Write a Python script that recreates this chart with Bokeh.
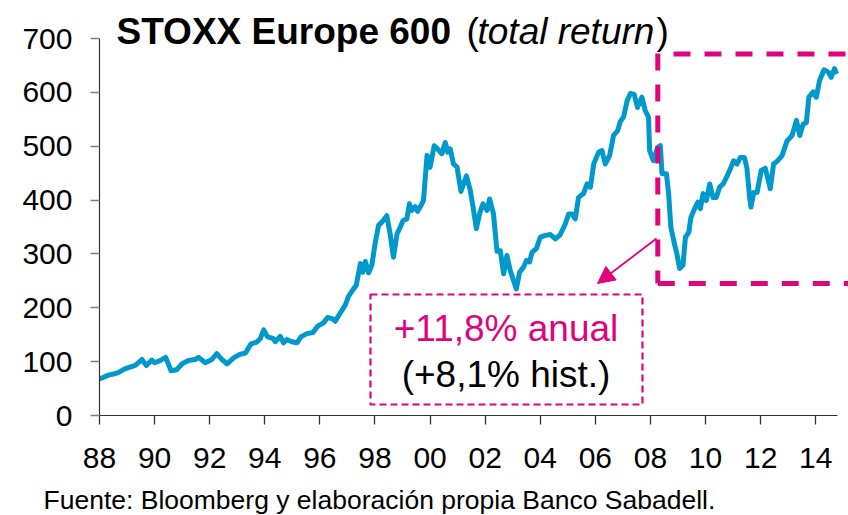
from bokeh.plotting import figure
from bokeh.models import (Range1d, FixedTicker, Label, Arrow, NormalHead, BoxAnnotation,
                          ColumnDataSource, Title)
from bokeh.embed import file_html
from bokeh.resources import INLINE

# ---- data ----
years = [
    1988.00, 1988.15, 1988.33, 1988.50, 1988.70, 1988.90, 1989.05, 1989.30, 1989.54, 1989.70,
    1989.90, 1990.00, 1990.20, 1990.40, 1990.60, 1990.80, 1991.00, 1991.23, 1991.47, 1991.60,
    1991.84, 1992.08, 1992.26, 1992.44, 1992.63, 1992.87, 1993.07, 1993.30, 1993.50, 1993.70,
    1993.84, 1993.96, 1994.10, 1994.30, 1994.38, 1994.56, 1994.68, 1994.80, 1994.98, 1995.17,
    1995.31, 1995.53, 1995.75, 1995.92, 1996.13, 1996.28, 1996.44, 1996.56, 1996.71, 1996.92,
    1997.04, 1997.22, 1997.32, 1997.40, 1997.47, 1997.56, 1997.65, 1997.77, 1997.89, 1998.00,
    1998.13, 1998.25, 1998.43, 1998.55, 1998.67, 1998.80, 1998.92, 1999.02, 1999.16, 1999.25,
    1999.34, 1999.46, 1999.55, 1999.65, 1999.76, 1999.89, 2000.00, 2000.15, 2000.27, 2000.43,
    2000.55, 2000.64, 2000.73, 2000.85, 2000.98, 2001.12, 2001.32, 2001.46, 2001.58, 2001.68,
    2001.80, 2001.92, 2002.07, 2002.16, 2002.30, 2002.43, 2002.55, 2002.67, 2002.79, 2002.91,
    2003.03, 2003.13, 2003.25, 2003.40, 2003.50, 2003.61, 2003.70, 2003.86, 2004.00, 2004.15,
    2004.37, 2004.55, 2004.73, 2004.91, 2005.03, 2005.15, 2005.27, 2005.39, 2005.57, 2005.70,
    2005.82, 2005.94, 2006.12, 2006.24, 2006.36, 2006.52, 2006.66, 2006.81, 2006.90, 2007.03,
    2007.15, 2007.27, 2007.41, 2007.53, 2007.69, 2007.81, 2007.93, 2007.97, 2008.11, 2008.26,
    2008.36, 2008.42, 2008.58, 2008.66, 2008.74, 2008.87, 2008.96, 2009.06, 2009.18, 2009.27,
    2009.39, 2009.47, 2009.63, 2009.72, 2009.81, 2009.91, 2010.03, 2010.15, 2010.27, 2010.39,
    2010.51, 2010.64, 2010.76, 2010.90, 2011.02, 2011.14, 2011.26, 2011.41, 2011.50, 2011.60,
    2011.65, 2011.75, 2011.87, 2012.02, 2012.17, 2012.35, 2012.47, 2012.62, 2012.78, 2012.96,
    2013.14, 2013.30, 2013.42, 2013.54, 2013.66, 2013.75, 2013.91, 2014.02, 2014.14, 2014.30,
    2014.45, 2014.56, 2014.68, 2014.76,
]
values = [
    68, 71, 75, 77, 80, 86, 89, 93, 104, 93,
    103, 98, 102, 108, 83, 85, 96, 102, 104, 108,
    98, 104, 115, 104, 96, 107, 113, 116, 133, 136,
    143, 159, 146, 143, 137, 147, 135, 141, 137, 135,
    146, 152, 154, 166, 172, 182, 180, 175, 188, 205,
    221, 235, 242, 263, 282, 266, 286, 265, 280, 318,
    353, 359, 371, 337, 294, 337, 350, 362, 365, 393,
    381, 388, 379, 388, 399, 483, 461, 501, 495, 486,
    507, 489, 495, 467, 461, 416, 445, 418, 381, 347,
    375, 393, 381, 402, 375, 305, 306, 263, 297, 269,
    251, 235, 266, 276, 288, 285, 303, 310, 331, 334,
    336, 328, 336, 356, 374, 374, 365, 405, 412, 430,
    424, 467, 489, 492, 467, 483, 520, 529, 545, 555,
    584, 598, 596, 572, 591, 566, 554, 492, 473, 498,
    501, 449, 449, 412, 350, 319, 300, 273, 279, 331,
    340, 368, 387, 396, 384, 412, 399, 430, 405, 405,
    424, 430, 442, 458, 473, 467, 479, 479, 460, 405,
    387, 414, 414, 455, 459, 421, 467, 473, 483, 510,
    520, 548, 520, 541, 544, 591, 601, 591, 622, 642,
    638, 628, 644, 634,
]
x_ticks = [1988, 1990, 1992, 1994, 1996, 1998, 2000, 2002, 2004, 2006, 2008, 2010, 2012, 2014]
x_tick_labels = ["88", "90", "92", "94", "96", "98", "00", "02", "04", "06", "08", "10", "12", "14"]
y_ticks = [0, 100, 200, 300, 400, 500, 600, 700]

title_bold = "STOXX Europe 600"
title_italic = "total return"
box_line1 = "+11,8% anual"
box_line2 = "(+8,1% hist.)"
source_text = "Fuente: Bloomberg y elaboración propia Banco Sabadell."

# ---- layout ----
W, H = 848, 515
ML, MR, MT, MB = 99, 0, 0, 100
FW, FH = W - ML - MR, H - MT - MB
# pixel extent of the drawn axes inside the frame
AX_L, AX_R, AX_T, AX_B = 99, 837, 38, 415
XA0, XA1 = 1988.0, 2014.79          # x-axis extent (data)
YA0, YA1 = 0, 700                   # y-axis extent (data)
X0 = XA0
X1 = XA0 + (XA1 - XA0) * FW / (AX_R - AX_L)
Y0 = YA0
Y1 = YA1 * FH / (AX_B - AX_T)

MAG = "#E0047C"
BLUE = "#0099CC"
FONT = "Liberation Sans"


def px_x(ix):
    # canvas pixel -> x data value
    return X0 + (ix - ML) / FW * (X1 - X0)


def px_y(iy):
    # canvas pixel -> y data value
    return Y0 + (MT + FH - iy) / FH * (Y1 - Y0)


p = figure(width=W, height=H, x_range=Range1d(X0, X1), y_range=Range1d(Y0, Y1),
           output_backend="svg", toolbar_location=None, title=None,
           min_border_left=ML, min_border_right=MR, min_border_top=MT, min_border_bottom=MB)
p.outline_line_color = None
p.xgrid.visible = False
p.ygrid.visible = False
p.background_fill_color = "white"
p.border_fill_color = "white"

for ax in (p.xaxis[0], p.yaxis[0]):
    ax.axis_line_color = "#333333"
    ax.axis_line_width = 1.2
    ax.major_tick_out = 9
    ax.major_tick_in = 0
    ax.minor_tick_line_color = None
    ax.major_label_text_font = FONT
    ax.major_label_text_font_size = "30px"
    ax.major_label_text_color = "black"

p.xaxis.bounds = (XA0, XA1)
p.yaxis.bounds = (YA0, YA1)
p.xaxis.ticker = FixedTicker(ticks=x_ticks)
p.xaxis.major_label_overrides = dict(zip(x_ticks, x_tick_labels))
p.xaxis.major_label_standoff = 23
p.xaxis.major_tick_line_color = "#333333"
p.xaxis.major_tick_line_width = 1.3
# blank axis label used only as a small spacer before the source note
p.xaxis.axis_label = " "
p.xaxis.axis_label_text_font_size = "5px"
p.xaxis.axis_label_standoff = 3
p.yaxis.ticker = FixedTicker(ticks=y_ticks)
p.yaxis.major_label_standoff = 18
p.yaxis.major_tick_line_color = "#808080"
p.yaxis.major_tick_line_width = 1.5

src = ColumnDataSource(dict(x=years, y=values))
p.line("x", "y", source=src, line_color=BLUE, line_width=5, line_join="round")

# annotation box
p.add_layout(BoxAnnotation(left=px_x(370), right=px_x(642), top=px_y(294), bottom=px_y(404),
                           fill_alpha=0, line_color=MAG, line_alpha=1, line_width=2.2,
                           line_dash="7 4"))
p.add_layout(Label(x=px_x(505.5), y=px_y(327.5), text=box_line1, text_align="center",
                   text_baseline="middle", text_font=FONT, text_font_size="37px",
                   text_color=MAG))
p.add_layout(Label(x=px_x(505.5), y=px_y(374), text=box_line2, text_align="center",
                   text_baseline="middle", text_font=FONT, text_font_size="37px",
                   text_color="black"))

# big dashed frame (post-2008 period)
for (xs, ys, xe, ye) in [(657.3, 53, 657.3, 283), (673, 53.5, 848, 53.5), (657.3, 283, 848, 283)]:
    p.add_layout(Arrow(start=None, end=None, x_start=px_x(xs), y_start=px_y(ys),
                       x_end=px_x(xe), y_end=px_y(ye), line_color=MAG, line_width=5,
                       line_dash="17 14"))

# thin arrow
p.add_layout(Arrow(end=NormalHead(size=17, fill_color=MAG, line_color=MAG),
                   x_start=px_x(656), y_start=px_y(238), x_end=px_x(597), y_end=px_y(283),
                   line_color=MAG, line_width=1.8))

# title
TY = 30.5
p.add_layout(Label(x=px_x(116), y=px_y(TY), text=title_bold, text_font=FONT,
                   text_font_style="bold", text_font_size="37px", text_color="black",
                   text_baseline="middle"))
p.add_layout(Label(x=px_x(466), y=px_y(TY), text="(", text_font=FONT,
                   text_font_size="37px", text_color="black", text_baseline="middle"))
p.add_layout(Label(x=px_x(477), y=px_y(TY), text=title_italic, text_font=FONT,
                   text_font_style="italic", text_font_size="37px", text_color="black",
                   text_baseline="middle"))
p.add_layout(Label(x=px_x(656), y=px_y(TY), text=")", text_font=FONT,
                   text_font_size="37px", text_color="black", text_baseline="middle"))

# source (below the x axis)
p.add_layout(Title(text=source_text, align="left", offset=43 - ML, standoff=0,
                   text_font=FONT, text_font_style="normal", text_font_size="26.5px",
                   text_color="black"), "below")

open("out.html", "w").write(file_html(p, INLINE))
